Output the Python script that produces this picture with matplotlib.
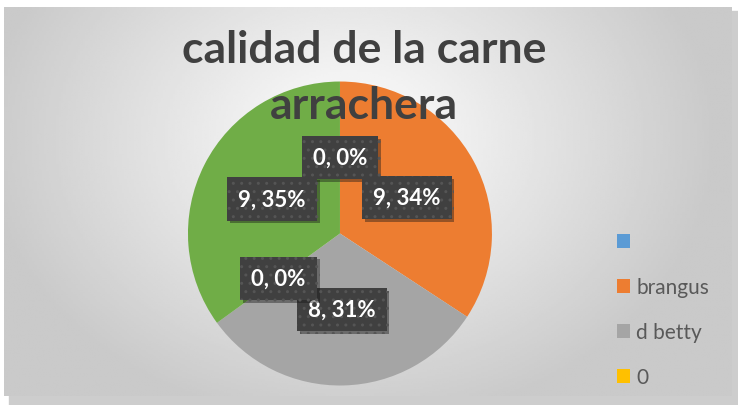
import numpy as np
import matplotlib.pyplot as plt
from matplotlib.patches import Rectangle, Patch
import matplotlib.patheffects as pe

# datos de la grafica
etiquetas = ["", "brangus", "d betty", "0", ""]
valores = [0, 8.9, 8.0, 0, 9.1]
colores = ["#5b9bd5", "#ed7d31", "#a5a5a5", "#ffc000", "#70ad47"]
titulo = "calidad de la carne\narrachera"

plt.rcParams['font.family'] = ['Lato', 'DejaVu Sans']

fig = plt.figure(figsize=(7.38, 4.06), dpi=100, facecolor="white")

# fondo con degradado radial
bg = fig.add_axes([0, 0, 1, 1])
bg.set_xlim(0, 738)
bg.set_ylim(406, 0)
bg.axis("off")
bg.add_patch(Rectangle((9, 12), 729, 394, color="#cdcdcd", zorder=0))
xx, yy = np.meshgrid(np.linspace(4, 732, 300), np.linspace(8, 397, 200))
d = np.sqrt(((xx - 350) / 420) ** 2 + ((yy - 140) / 330) ** 2)
g = np.clip(1 - 0.24 * d, 0.79, 1.0)
bg.imshow(g, cmap="gray", vmin=0, vmax=1, extent=(4, 732, 397, 8), zorder=1, aspect="auto")

ax = fig.add_axes([0.2547, 0.048, 0.4119, 0.7488])
total = sum(valores)


def fmt(pct):
    v = pct * total / 100
    return f"{round(v)}, {round(pct)}%"


wedges, _, textos = ax.pie(valores, colors=colores, startangle=90, counterclock=False,
                           autopct=fmt, pctdistance=0.5,
                           wedgeprops=dict(linewidth=0),
                           textprops=dict(color="white", fontsize=16, fontweight="bold"))
ax.set_xlim(-1, 1)
ax.set_ylim(-1, 1)
for t in textos:
    t.set_bbox(dict(boxstyle="square,pad=0.5", facecolor="#404040", edgecolor="#555555",
                    linewidth=0, hatch=".."))
    t.get_bbox_patch().set_path_effects([pe.SimplePatchShadow(offset=(2, -2), alpha=0.4), pe.Normal()])
    t.set_zorder(5)

fig.text(0.493, 0.808, titulo, ha="center", va="center", fontsize=32, fontweight="bold",
         color="#404040", linespacing=1.5, zorder=10)

handles = [Patch(facecolor=c) for c in colores[:4]]
leg = fig.legend(handles, etiquetas[:4], loc="center left", bbox_to_anchor=(0.81, 0.235),
                 frameon=False, fontsize=15, labelspacing=1.2, handlelength=0.65,
                 handleheight=0.65, handletextpad=0.3, labelcolor="#595959")

fig.savefig("out.png", dpi=100, facecolor="white")
